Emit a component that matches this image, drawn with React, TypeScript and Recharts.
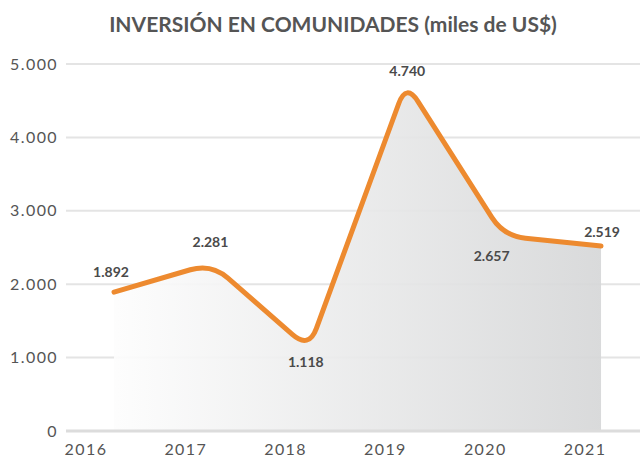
import React from 'react';
import { ComposedChart, Area, Line, XAxis, YAxis, CartesianGrid } from 'recharts';

const years = [2016, 2017, 2018, 2019, 2020, 2021];
const inversion = [1892, 2281, 1118, 4740, 2657, 2519];
const yTicks = [0, 1000, 2000, 3000, 4000, 5000];

// label placement around each point (dx, dy of the label centre)
const labelDx = [-3, -1, -3, 1, -12, 1];
const labelDy = [-20, -21, 13, -12, 20, -14];

const data = years.map((year, i) => ({ year, value: inversion[i] }));

const fmt = (v: number) => v.toLocaleString('de-DE');

// straight segments with rounded corners
function roundedCurve(radius: number) {
  return (ctx: any) => {
    let pts: number[][] = [];
    let line = NaN;
    return {
      areaStart() { line = 0; },
      areaEnd() { line = NaN; },
      lineStart() { pts = []; },
      point(x: number, y: number) { pts.push([+x, +y]); },
      lineEnd() {
        const n = pts.length;
        if (n) {
          if (line) ctx.lineTo(pts[0][0], pts[0][1]);
          else ctx.moveTo(pts[0][0], pts[0][1]);
          for (let i = 1; i < n - 1; i++) {
            const [px, py] = pts[i - 1];
            const [cx, cy] = pts[i];
            const [nx, ny] = pts[i + 1];
            const l1 = Math.hypot(cx - px, cy - py);
            const l2 = Math.hypot(nx - cx, ny - cy);
            const r = Math.min(radius, l1 / 2, l2 / 2);
            ctx.lineTo(cx - ((cx - px) / l1) * r, cy - ((cy - py) / l1) * r);
            ctx.quadraticCurveTo(cx, cy, cx + ((nx - cx) / l2) * r, cy + ((ny - cy) / l2) * r);
          }
          if (n > 1) ctx.lineTo(pts[n - 1][0], pts[n - 1][1]);
        }
        if (line || (line !== 0 && n === 1)) ctx.closePath();
        line = 1 - line;
      },
    };
  };
}

const curve = roundedCurve(22);

const tickStyle = { fontFamily: 'Lato', fontSize: 16, fill: '#555', letterSpacing: 1.4 };

function ValueLabel(props: any) {
  const { x, y, value, index } = props;
  return (
    <text
      x={x + labelDx[index]}
      y={y + labelDy[index]}
      dy="0.35em"
      textAnchor="middle"
      fontFamily="Lato"
      fontWeight={700}
      fontSize={14}
      fill="#4a4a4a"
    >
      {fmt(value)}
    </text>
  );
}

export default function App() {
  return (
    <div style={{ position: 'absolute', left: 0, top: 0, width: 640, height: 461, background: '#fff' }}>
      <div
        style={{
          position: 'absolute',
          left: 0,
          width: 666,
          top: 11,
          textAlign: 'center',
          fontFamily: 'Lato',
          fontWeight: 700,
          fontSize: 21,
          lineHeight: 'normal',
          whiteSpace: 'nowrap',
          color: '#555',
        }}
      >
        INVERSIÓN EN COMUNIDADES (miles de US$)
      </div>
      <ComposedChart width={640} height={461} data={data} margin={{ top: 64, right: 0, bottom: 0, left: 0 }}>
        <defs>
          <linearGradient id="areaFill" x1="0" y1="0" x2="1" y2="0">
            <stop offset="0%" stopColor="#fdfdfd" />
            <stop offset="100%" stopColor="#d6d7d8" />
          </linearGradient>
        </defs>
        <CartesianGrid xAxisId="l" horizontal vertical={false} stroke="#e4e4e4" strokeWidth={2} />
        <XAxis xAxisId="d" type="number" dataKey="year" domain={[2015.507, 2021.4]} height={0} hide />
        <XAxis
          xAxisId="l"
          type="number"
          dataKey="year"
          domain={[2015.8, 2021.55]}
          ticks={years}
          tickLine={false}
          axisLine={{ stroke: '#dcdcdc', strokeWidth: 3 }}
          tickMargin={7}
          height={30}
          tick={tickStyle}
        />
        <YAxis
          domain={[0, 5000]}
          ticks={yTicks}
          tickFormatter={fmt}
          axisLine={false}
          tickLine={false}
          width={66}
          tickMargin={2}
          tick={tickStyle}
        />
        <Area
          xAxisId="d"
          dataKey="value"
          type={curve as any}
          stroke="none"
          fill="url(#areaFill)"
          fillOpacity={0.92}
          isAnimationActive={false}
        />
        <Line
          xAxisId="d"
          dataKey="value"
          type={curve as any}
          stroke="#ed8a2f"
          strokeWidth={5}
          strokeLinecap="round"
          strokeLinejoin="round"
          dot={false}
          activeDot={false}
          label={<ValueLabel />}
          isAnimationActive={false}
        />
      </ComposedChart>
    </div>
  );
}
